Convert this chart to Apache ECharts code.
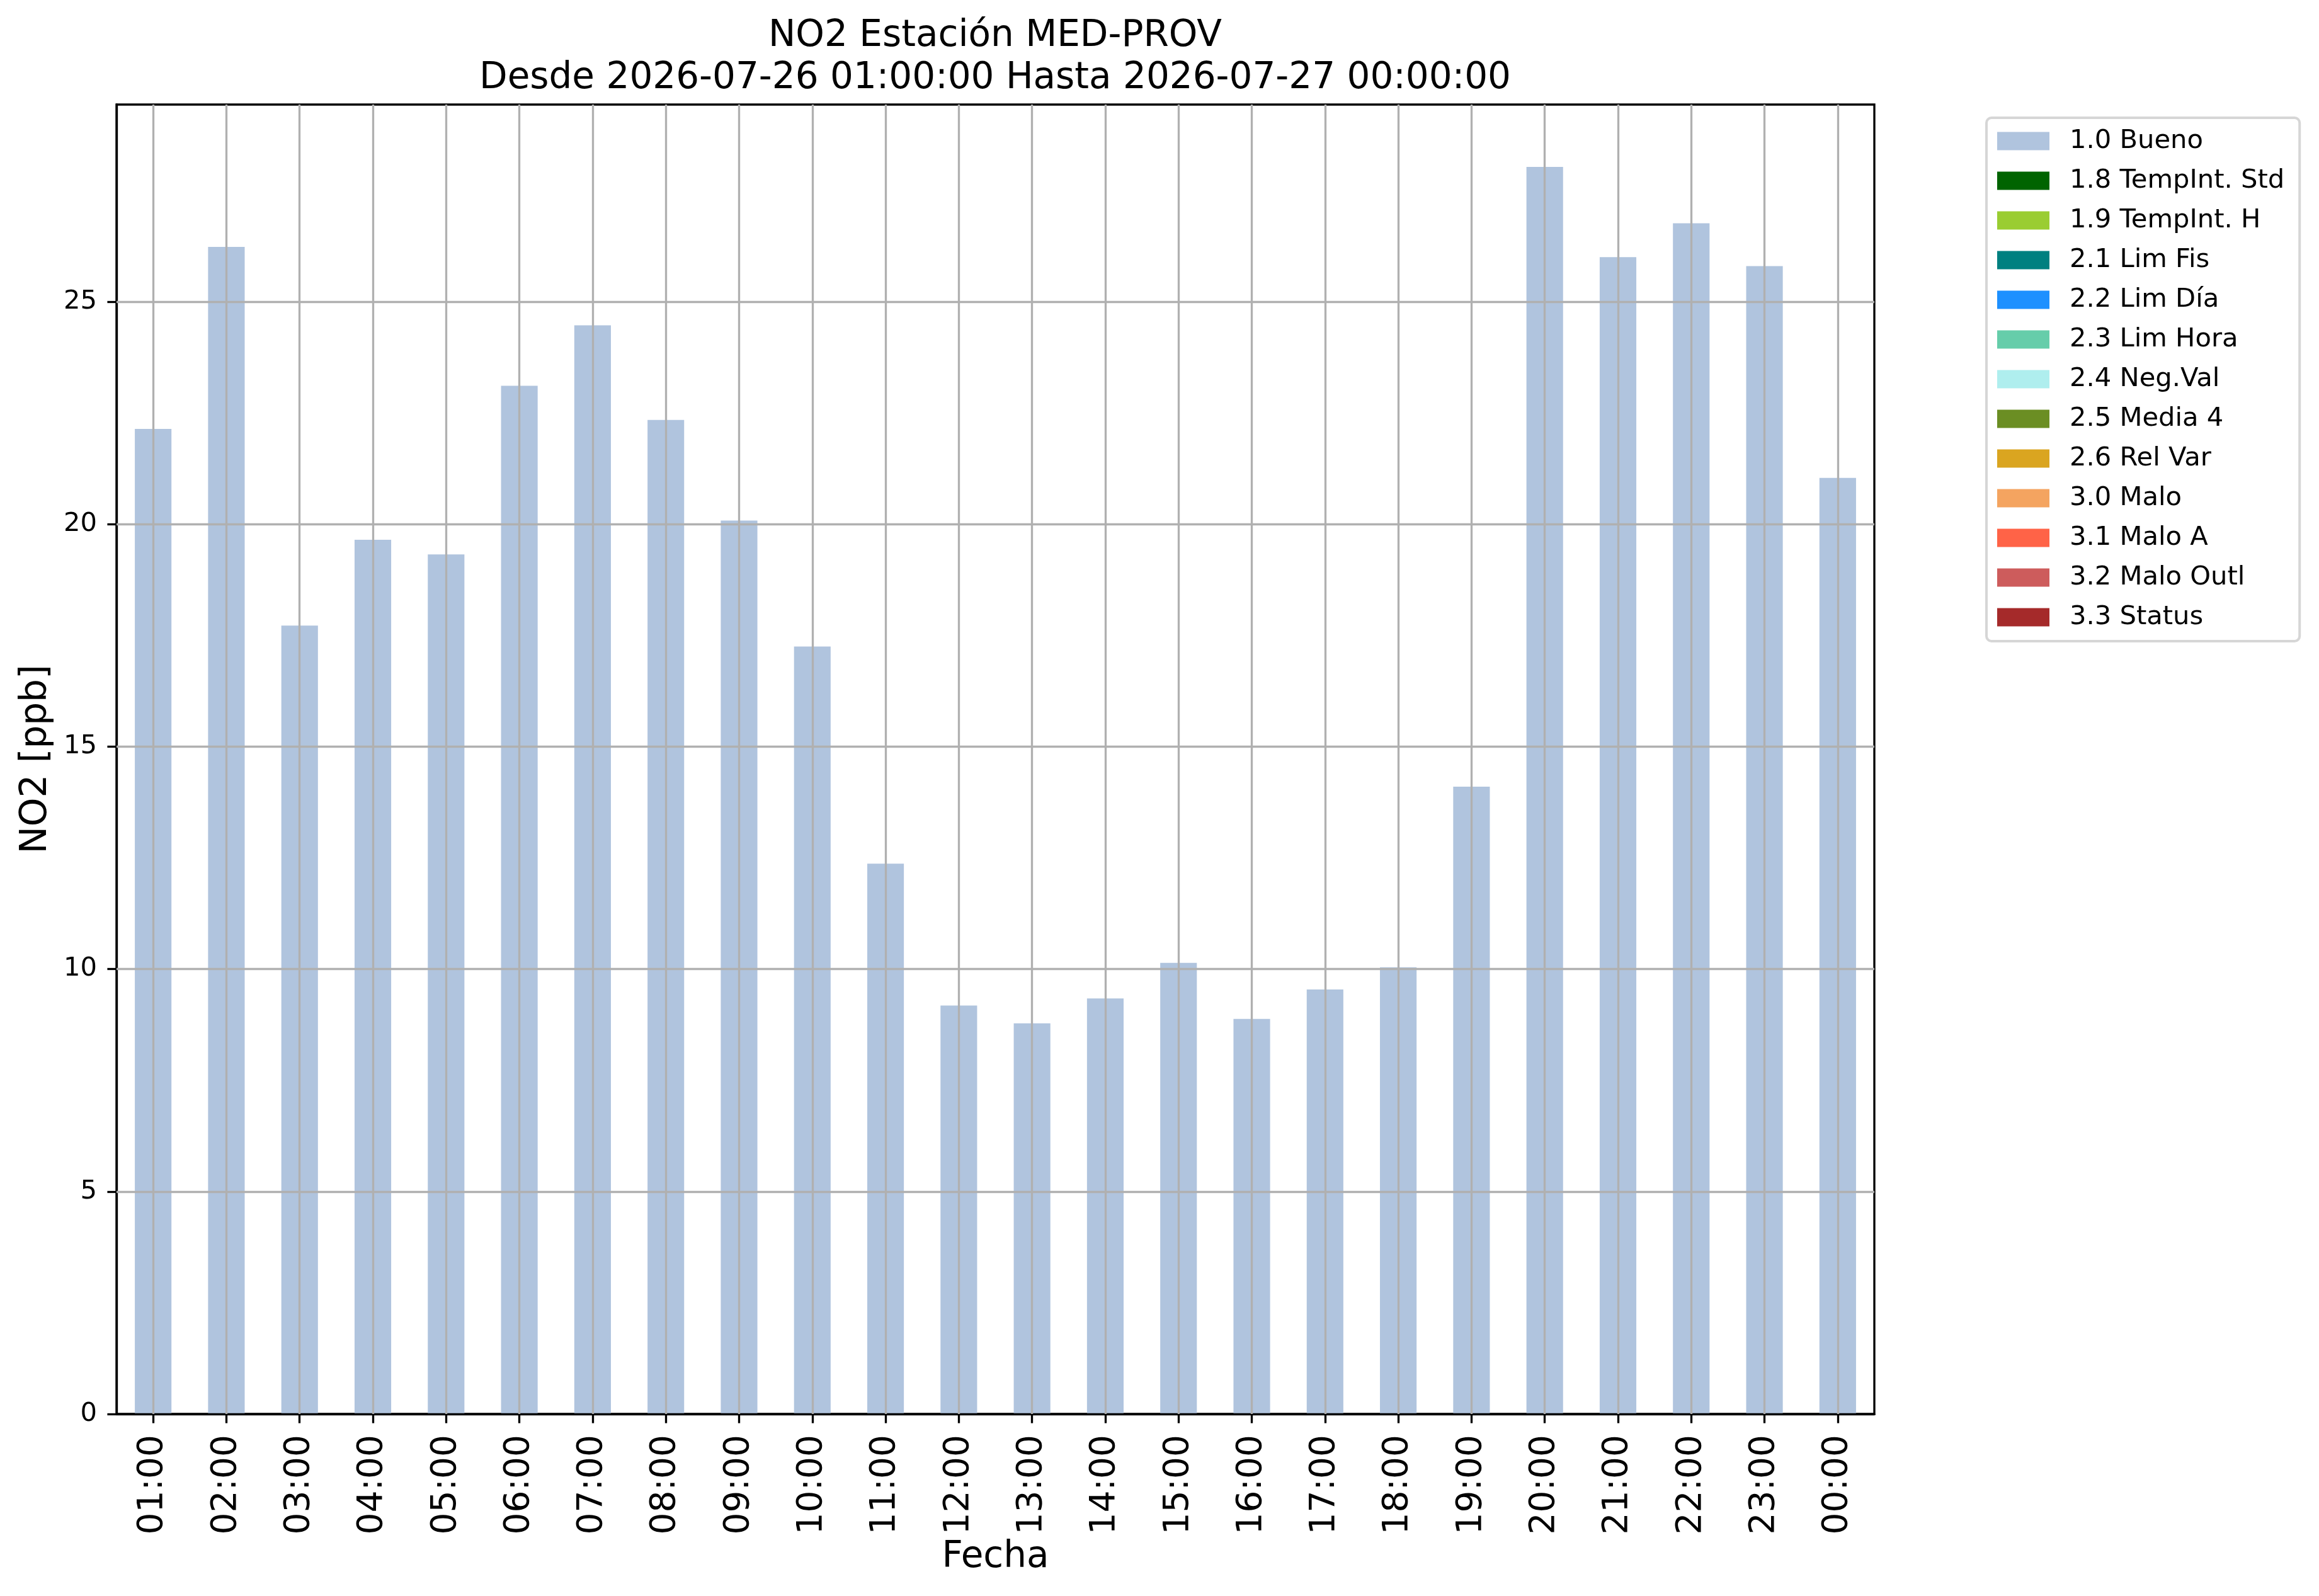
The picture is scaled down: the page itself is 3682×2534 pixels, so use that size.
<!DOCTYPE html>
<html>
<head>
<meta charset="utf-8">
<script src="https://cdn.jsdelivr.net/npm/echarts@6/dist/echarts.min.js"></script>
<style>
  html, body { margin: 0; padding: 0; background: #fff; }
  #chart { width: 3682px; height: 2534px; }
</style>
</head>
<body>
<div id="chart"></div>
<script>
// horas del día (eje X)
const hours = ['01:00', '02:00', '03:00', '04:00', '05:00', '06:00', '07:00', '08:00',
    '09:00', '10:00', '11:00', '12:00', '13:00', '14:00', '15:00', '16:00',
    '17:00', '18:00', '19:00', '20:00', '21:00', '22:00', '23:00', '00:00'];

// NO2 [ppb] con bandera 1.0 Bueno
const bueno = [22.14, 26.23, 17.72, 19.65, 19.32, 23.11, 24.47, 22.34,
    20.08, 17.25, 12.37, 9.18, 8.78, 9.34, 10.14, 8.88,
    9.54, 10.04, 14.10, 28.03, 26.00, 26.76, 25.80, 21.04];

// banderas de calidad y sus colores
const flagNames = ['1.0 Bueno', '1.8 TempInt. Std', '1.9 TempInt. H', '2.1 Lim Fis',
    '2.2 Lim Día', '2.3 Lim Hora', '2.4 Neg.Val', '2.5 Media 4', '2.6 Rel Var',
    '3.0 Malo', '3.1 Malo A', '3.2 Malo Outl', '3.3 Status'];
const flagColors = ['#b0c4de', '#006400', '#9acd32', '#008080',
    '#1e90ff', '#66cdaa', '#afeeee', '#6b8e23', '#daa520',
    '#f4a460', '#ff6347', '#cd5c5c', '#a52a2a'];

const yTicks = [0, 5, 10, 15, 20, 25];
const yMax = 29.43;

const FONT = 'DejaVu Sans';
const PT = 300 / 72;

const chart = echarts.init(document.getElementById('chart'));

const gridLines = hours.map(h => ({ xAxis: h }))
    .concat(yTicks.filter(v => v > 0).map(v => ({ yAxis: v })));

const series = flagNames.map((name, i) => {
    const s = {
        name: name,
        type: 'bar',
        stack: 'flags',
        barWidth: '50%',
        itemStyle: { color: flagColors[i] },
        data: i === 0 ? bueno : []
    };
    if (i === 0) {
        s.markLine = {
            silent: true,
            symbol: ['none', 'none'],
            label: { show: false },
            animation: false,
            lineStyle: { color: '#b0b0b0', width: 0.8 * PT, type: 'solid' },
            emphasis: { disabled: true },
            data: gridLines
        };
    }
    return s;
});

const option = {
    animation: false,
    backgroundColor: '#ffffff',
    textStyle: { fontFamily: FONT },
    title: {
        text: 'NO2 Estación MED-PROV\nDesde 2026-07-26 01:00:00 Hasta 2026-07-27 00:00:00',
        left: 1580,
        top: 25,
        padding: 0,
        textAlign: 'center',
        textStyle: {
            fontFamily: FONT,
            fontSize: 58,
            fontWeight: 'normal',
            color: '#000',
            lineHeight: 66.5
        }
    },
    legend: {
        orient: 'vertical',
        left: 3154,
        top: 187,
        icon: 'rect',
        itemWidth: 83,
        itemHeight: 29,
        itemGap: 21,
        padding: [16, 24, 17, 17],
        borderColor: '#d6d6d6',
        borderWidth: 4,
        borderRadius: 8,
        backgroundColor: '#ffffff',
        selectedMode: false,
        data: flagNames,
        textStyle: {
            fontFamily: FONT,
            fontSize: 10 * PT,
            color: '#000',
            lineHeight: 29,
            padding: [0, 0, 0, 27]
        }
    },
    grid: {
        left: 185,
        right: 706,
        top: 166,
        bottom: 289,
        show: true,
        borderColor: '#000',
        borderWidth: 0.8 * PT,
        backgroundColor: 'transparent',
        containLabel: false
    },
    xAxis: {
        type: 'category',
        data: hours,
        z: 3,
        name: 'Fecha',
        nameLocation: 'middle',
        nameGap: 195,
        nameTextStyle: { fontFamily: FONT, fontSize: 58, color: '#000' },
        axisLine: { show: true, lineStyle: { color: '#000', width: 0.8 * PT } },
        axisTick: {
            show: true,
            alignWithLabel: true,
            inside: false,
            length: 3.5 * PT,
            lineStyle: { color: '#000', width: 0.8 * PT }
        },
        axisLabel: {
            interval: 0,
            rotate: 90,
            margin: 33,
            fontFamily: FONT,
            fontSize: 55,
            color: '#000'
        },
        splitLine: { show: false }
    },
    yAxis: {
        type: 'value',
        min: 0,
        max: yMax,
        interval: 5,
        name: 'NO2 [ppb]',
        nameLocation: 'middle',
        nameRotate: 90,
        nameGap: 98,
        nameTextStyle: { fontFamily: FONT, fontSize: 58, color: '#000' },
        axisLine: { show: true, lineStyle: { color: '#000', width: 0.8 * PT } },
        axisTick: {
            show: true,
            inside: false,
            length: 3.5 * PT,
            customValues: yTicks,
            lineStyle: { color: '#000', width: 0.8 * PT }
        },
        axisLabel: {
            margin: 31,
            customValues: yTicks,
            fontFamily: FONT,
            fontSize: 10 * PT,
            color: '#000'
        },
        splitLine: { show: false }
    },
    series: series
};

chart.setOption(option);
</script>
</body>
</html>
